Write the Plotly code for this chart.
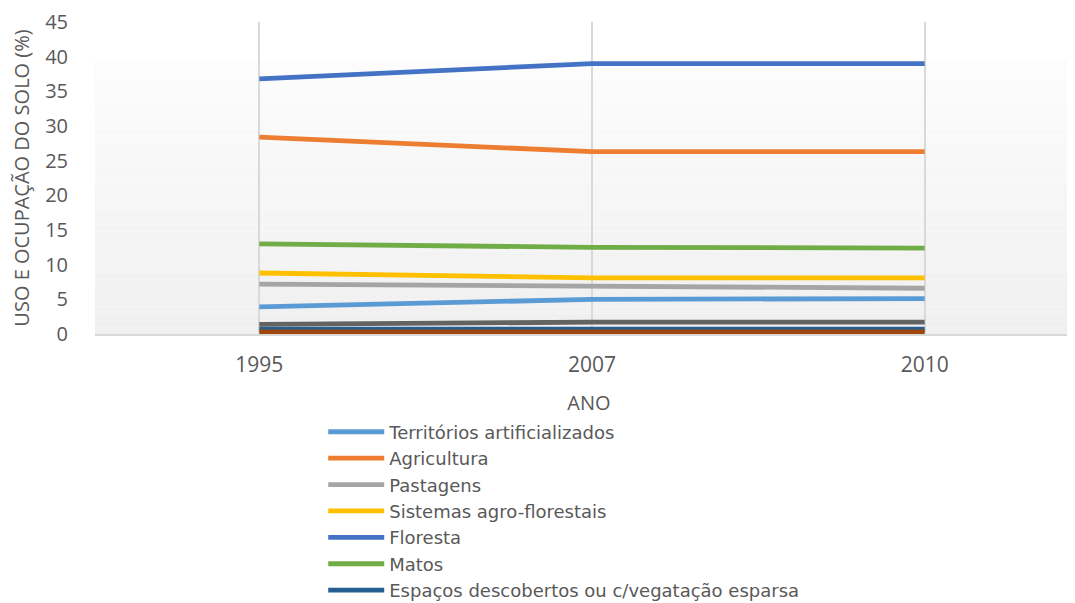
import plotly.graph_objects as go

anos = ["1995", "2007", "2010"]

territorios = [3.9, 5.0, 5.1]
agricultura = [28.4, 26.3, 26.3]
pastagens = [7.2, 6.9, 6.6]
agroflorestais = [8.8, 8.1, 8.1]
floresta = [36.8, 39.0, 39.0]
matos = [13.0, 12.5, 12.4]
espacos = [0.7, 0.7, 0.7]
zonas_humidas = [0.3, 0.3, 0.3]
corpos_agua = [1.4, 1.7, 1.7]

series = [
    ("Territórios artificializados", territorios, "#5B9BD5", True),
    ("Agricultura", agricultura, "#ED7D31", True),
    ("Pastagens", pastagens, "#A5A5A5", True),
    ("Sistemas agro-florestais", agroflorestais, "#FFC000", True),
    ("Floresta", floresta, "#4472C4", True),
    ("Matos", matos, "#70AD47", True),
    ("Espaços descobertos ou c/vegatação esparsa", espacos, "#255E91", True),
    ("Zonas húmidas", zonas_humidas, "#9E480E", False),
    ("Corpos de água", corpos_agua, "#636363", False),
]

fig = go.Figure()
for nome, vals, cor, leg in series:
    fig.add_trace(go.Scatter(x=anos, y=vals, name=nome, mode="lines",
                             line=dict(color=cor, width=4.8), showlegend=leg))

# gradient plot area (white -> light gray), built from thin bands
n = 40
top = 0.878
for i in range(n):
    c = int(253 - (253 - 240) * (i + 0.5) / n)
    fig.add_shape(type="rect", xref="paper", yref="paper", layer="below",
                  x0=0, x1=1, y0=top - top * (i + 1) / n, y1=top - top * i / n,
                  fillcolor=f"rgb({c},{c},{c})", line=dict(width=0))

txt = "#595959"
fig.update_layout(
    width=1075, height=620,
    margin=dict(l=87, r=0, t=14, b=294, autoexpand=False),
    paper_bgcolor="white", plot_bgcolor="white",
    font=dict(family="Open Sans", size=20, color=txt),
    xaxis=dict(type="category", range=[-0.494, 2.476], showgrid=True,
               gridcolor="#d9d9d9", gridwidth=1.5, showline=True,
               linecolor="#d9d9d9", linewidth=2, ticks="",
               ticklabelstandoff=11, tickfont=dict(size=21, color=txt),
               title=dict(text="ANO", font=dict(size=20, color=txt), standoff=19)),
    yaxis=dict(range=[0, 45], dtick=5, showgrid=False, zeroline=False,
               showline=False, ticks="", ticklabelstandoff=26,
               ticklabeloverflow="allow",
               tickfont=dict(size=20, color=txt),
               title=dict(text="USO E OCUPAÇÃO DO SOLO (%)",
                          font=dict(size=20, color=txt), standoff=12)),
    legend=dict(x=0.231, y=-0.255, xanchor="left", yanchor="top",
                font=dict(family="DejaVu Sans", size=18, color=txt), itemwidth=56,
                tracegroupgap=0, bgcolor="rgba(0,0,0,0)"),
)

fig.write_html("out.html")
